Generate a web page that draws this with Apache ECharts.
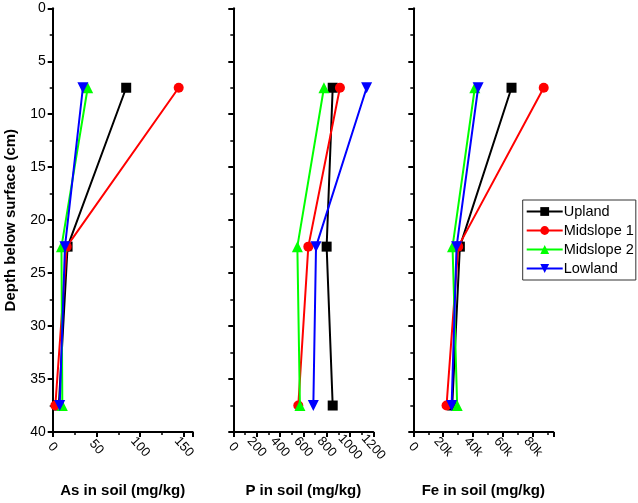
<!DOCTYPE html>
<html><head><meta charset="utf-8">
<script src="https://cdn.jsdelivr.net/npm/echarts@6/dist/echarts.min.js"></script>
<style>html,body{margin:0;padding:0;background:#fff}#c{width:638px;height:503px}</style>
</head><body><div id="c"></div>
<script>
const depths = [7.5, 22.5, 37.5];
const sites = ['Upland', 'Midslope 1', 'Midslope 2', 'Lowland'];
const colors = ['#000000', '#ff0000', '#00ff00', '#0000ff'];
const symbols = ['rect', 'circle', 'triangle', 'triangle'];
const symRot = [0, 0, 0, 180];
const symSize = [10, 10, 11, 11];
const asUpland = [84, 17, 7];
const asMid1 = [144, 16, 3];
const asMid2 = [40, 10, 11];
const asLowland = [34.5, 14, 8];
const pUpland = [852, 800, 852];
const pMid1 = [914, 643, 557];
const pMid2 = [777, 549, 571];
const pLowland = [1143, 709, 686];
const feUpland = [65600, 31100, 26000];
const feMid1 = [87100, 30000, 22200];
const feMid2 = [41100, 26200, 29300];
const feLowland = [43300, 28900, 25600];
const panels = [
  {name: 'As in soil (mg/kg)', max: 160, interval: 50, data: [asUpland, asMid1, asMid2, asLowland], fmt: v => String(v)},
  {name: 'P in soil (mg/kg)', max: 1200, interval: 200, data: [pUpland, pMid1, pMid2, pLowland], fmt: v => String(v)},
  {name: 'Fe in soil (mg/kg)', max: 93500, interval: 20000, data: [feUpland, feMid1, feMid2, feLowland], fmt: v => v === 0 ? '0' : (v / 1000) + 'k'}
];
const lefts = [52.7, 233.3, 413.3];
const font = 'Arial, "Liberation Sans", sans-serif';
const axLine = {show: true, onZero: false, lineStyle: {color: '#000', width: 2}};
const grid = [], xAxis = [], yAxis = [], series = [];
panels.forEach((p, i) => {
  grid.push({left: lefts[i], top: 8.3, width: 140, height: 430});
  xAxis.push({
    gridIndex: i, type: 'value', min: 0, max: p.max, interval: p.interval,
    name: p.name, nameLocation: 'middle', nameGap: 51,
    nameTextStyle: {fontFamily: font, fontSize: 15, fontWeight: 'bold', color: '#000'},
    axisLine: axLine, axisTick: {show: true, length: 5, lineStyle: {color: '#000', width: 2}},
    minorTick: {show: true, splitNumber: 2, length: 3, lineStyle: {color: '#000', width: 1.5}},
    splitLine: {show: false}, minorSplitLine: {show: false},
    axisLabel: {rotate: -48, align: 'center', verticalAlign: 'middle', fontFamily: font, fontSize: 13,
      color: '#000', margin: 15, showMaxLabel: i === 1, formatter: p.fmt}
  });
  yAxis.push({
    gridIndex: i, type: 'value', min: 0, max: 40, interval: 5, inverse: true,
    name: i === 0 ? 'Depth below surface (cm)' : '', nameLocation: 'middle', nameGap: 34,
    nameTextStyle: {fontFamily: font, fontSize: 15, fontWeight: 'bold', color: '#000'},
    axisLine: axLine, axisTick: {show: true, length: 5, lineStyle: {color: '#000', width: 2}},
    minorTick: {show: true, splitNumber: 2, length: 3, lineStyle: {color: '#000', width: 1.5}},
    splitLine: {show: false}, minorSplitLine: {show: false},
    axisLabel: {show: i === 0, fontFamily: font, fontSize: 14, color: '#000', margin: 7}
  });
  p.data.forEach((vals, s) => {
    series.push({
      type: 'line', name: sites[s], xAxisIndex: i, yAxisIndex: i,
      data: vals.map((v, k) => [v, depths[k]]),
      symbol: symbols[s], symbolRotate: symRot[s], symbolSize: symSize[s],
      lineStyle: {color: colors[s], width: 2}, itemStyle: {color: colors[s]},
      showAllSymbol: true, animation: false, z: 2 + s
    });
  });
});
const chart = echarts.init(document.getElementById('c'), null, {renderer: 'canvas'});
chart.setOption({
  animation: false,
  backgroundColor: '#fff',
  grid, xAxis, yAxis, series,
  legend: {
    data: sites, orient: 'vertical', left: 522.7, top: 200,
    itemWidth: 36, itemHeight: 11, itemGap: 4,
    padding: [4, 2, 4, 3], borderColor: '#333', borderWidth: 1, backgroundColor: '#fff',
    textStyle: {fontFamily: font, fontSize: 14.5, color: '#000', padding: [0, 0, 0, -4]}
  }
});
</script></body></html>
